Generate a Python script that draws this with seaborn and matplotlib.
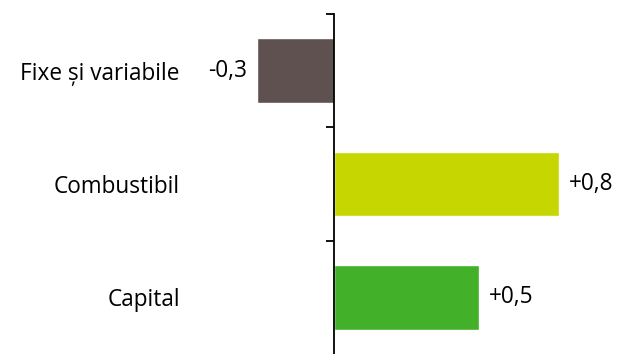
import matplotlib
matplotlib.use("Agg")
import matplotlib.pyplot as plt
import seaborn as sns
import pandas as pd

categories = ["Fixe și variabile", "Combustibil", "Capital"]
values = [-0.27, 0.79, 0.51]
labels = ["-0,3", "+0,8", "+0,5"]
colors = ["#5f5150", "#c5d600", "#43b02a"]

sns.set_style("white")
plt.rcParams['font.family'] = ['Open Sans', 'DejaVu Sans']

df = pd.DataFrame({"cat": categories, "val": values})

fig = plt.figure(figsize=(6.18, 3.54), dpi=100)
ax = fig.add_axes([200 / 618, 0, 410 / 618, 340 / 354])

sns.barplot(data=df, y="cat", x="val", hue="cat", palette=colors,
            orient="h", width=0.57, saturation=1, legend=False, ax=ax)

ax.set_xlim(-134 / 285, 276 / 285)
ax.set_ylim(2.5, -0.5)
for s in ["top", "right", "bottom"]:
    ax.spines[s].set_visible(False)
ax.spines["left"].set_position(("data", 0))
ax.spines["left"].set_color("black")
ax.spines["left"].set_linewidth(1.3)
ax.set_xticks([])
ax.set_xlabel("")
ax.set_ylabel("")

# category labels at centres, boundary tick marks as minor ticks
ax.set_yticks(range(len(categories)))
ax.set_yticklabels(categories, fontsize=16.3, color="black")
ax.tick_params(axis="y", which="major", left=False, length=0, pad=111)
ax.set_yticks([-0.5, 0.5, 1.5], minor=True)
ax.tick_params(axis="y", which="minor", left=True, length=6, width=1.3,
               color="black", direction="out")

for cont in ax.containers:
    for bar in cont:
        v = bar.get_width()
        i = int(round(bar.get_y() + bar.get_height() / 2))
        ax.annotate(labels[i], (v, i), xytext=(7 if v > 0 else -7, 0),
                    textcoords="offset points", va="center",
                    ha="left" if v > 0 else "right", fontsize=16.3, color="black")

fig.savefig("out.png", dpi=100)
